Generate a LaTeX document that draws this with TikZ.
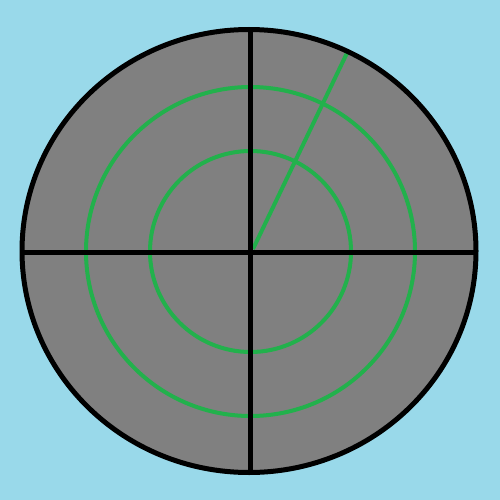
\documentclass[tikz,border=0pt]{standalone}
\definecolor{bgblue}{HTML}{99D9EA}
\definecolor{dishgray}{HTML}{808080}
\definecolor{radargreen}{HTML}{22B14C}
\begin{document}
\begin{tikzpicture}[x=1pt,y=-1pt,
  axis/.style={draw=black,line width=5pt},
  ring/.style={draw=radargreen,line width=4pt}]
\fill[bgblue] (0,0) rectangle (500,500);
\useasboundingbox (0,0) rectangle (500,500);
\coordinate (c) at (250.5,251.5);
\fill[dishgray] (249,251) ellipse [x radius=227, y radius=221.5];
\draw[ring] (c) circle [radius=100.5];
\draw[ring] (c) circle [radius=164.5];
\coordinate (sweepstart) at (253,249);
\coordinate (sweepend) at (347.5,52);
\draw[ring] (sweepstart) -- (sweepend);
\coordinate (l) at (22,252.5);
\coordinate (r) at (476,252.5);
\coordinate (t) at (250.5,29.5);
\coordinate (b) at (250.5,472.5);
\draw[axis] (l) -- (r);
\draw[axis] (t) -- (b);
\draw[axis] (249,251) ellipse [x radius=227, y radius=221.5];
\end{tikzpicture}
\end{document}
